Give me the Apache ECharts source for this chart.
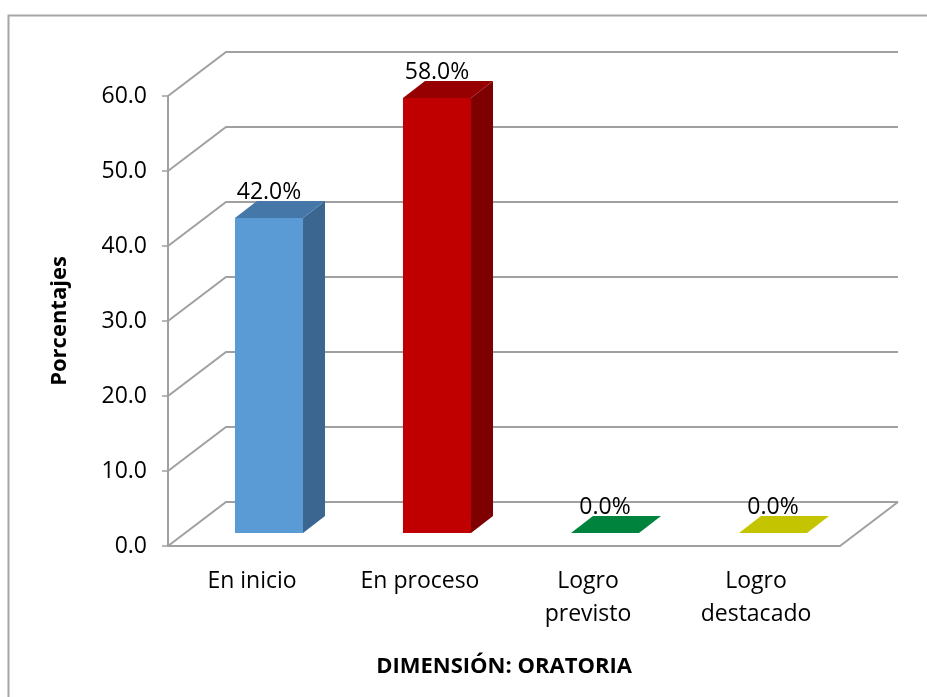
<!DOCTYPE html>
<html>
<head>
<meta charset="utf-8">
<title>Dimensión: Oratoria</title>
<script src="https://cdn.jsdelivr.net/npm/echarts@6/dist/echarts.min.js"></script>
<style>
  html, body { margin: 0; padding: 0; background: #fff; }
  #chart { width: 927px; height: 697px; }
</style>
</head>
<body>
<div id="chart"></div>
<script>
// data
const categories = ["En inicio", "En proceso", "Logro\nprevisto", "Logro\ndestacado"];
const values = [42.0, 58.0, 0.0, 0.0];
const yTicks = [0, 10, 20, 30, 40, 50, 60];

// bar faces
const frontColors = ["#5b9bd5", "#c00000", "#00843d", "#c4c400"];
const sideColors = ["#3a6690", "#7f0000", "#005a2a", "#8a8a00"];
const topColors = ["#4577a8", "#960000", "#00843d", "#c4c400"];

const FONT = "Open Sans";
const WALL_DX = 58, WALL_DY = -44;   // depth of the floor / side wall
const BAR_OX = 17, BAR_OY = -13;     // bar sits a bit back from the front edge
const BAR_DX = 22, BAR_DY = -17;     // depth of a bar

function renderWall(params, api) {
  const cs = params.coordSys;
  const v = api.value(1);
  const y = api.coord([0, v])[1];
  const left = cs.x, right = cs.x + cs.width;
  const lineStyle = { stroke: "#a0a0a0", lineWidth: 2, fill: null };
  const children = [{
    type: "polyline",
    shape: { points: [[left, y], [left + WALL_DX, y + WALL_DY], [right + WALL_DX, y + WALL_DY]] },
    style: lineStyle
  }];
  if (v === 0) {
    children.push({
      type: "line",
      shape: { x1: right, y1: y, x2: right + WALL_DX, y2: y + WALL_DY },
      style: lineStyle
    });
  }
  return { type: "group", children: children };
}

function renderBar(params, api) {
  const i = api.value(0);
  const v = api.value(1);
  const base = api.coord([i, 0]);
  const top = api.coord([i, v]);
  const w = api.size([1, 0])[0] * 0.405;
  const cx = base[0] + BAR_OX;
  const x0 = cx - w / 2, x1 = cx + w / 2;
  const yb = base[1] + BAR_OY, yt = top[1] + BAR_OY;
  const children = [];
  if (yb - yt > 0.5) {
    children.push({
      type: "rect",
      shape: { x: x0, y: yt, width: x1 - x0, height: yb - yt },
      style: { fill: frontColors[i] }
    });
    children.push({
      type: "polygon",
      shape: { points: [[x1, yb], [x1 + BAR_DX, yb + BAR_DY], [x1 + BAR_DX, yt + BAR_DY], [x1, yt]] },
      style: { fill: sideColors[i] }
    });
  }
  children.push({
    type: "polygon",
    shape: { points: [[x0, yt], [x1, yt], [x1 + BAR_DX, yt + BAR_DY], [x0 + BAR_DX, yt + BAR_DY]] },
    style: { fill: topColors[i] }
  });
  children.push({
    type: "text",
    style: {
      text: v.toFixed(1) + "%",
      x: cx,
      y: yt + BAR_DY + 3,
      align: "center",
      verticalAlign: "bottom",
      fontFamily: FONT,
      fontSize: 23,
      fill: "#000"
    }
  });
  return { type: "group", children: children };
}

const chart = echarts.init(document.getElementById("chart"));
chart.setOption({
  animation: false,
  graphic: [{
    type: "rect",
    left: 6, top: 13, z: -10,
    shape: { width: 1000, height: 1000 },
    style: { fill: null, stroke: "#a6a6a6", lineWidth: 2 }
  }],
  grid: { left: 168, right: 87, top: 96, bottom: 151 },
  xAxis: {
    type: "category",
    data: categories,
    name: "DIMENSIÓN: ORATORIA",
    nameLocation: "middle",
    nameGap: 110,
    nameTextStyle: { fontFamily: FONT, fontSize: 22, fontWeight: "bold", color: "#000" },
    axisLine: { lineStyle: { color: "#a0a0a0", width: 2 } },
    axisTick: { length: 8, lineStyle: { color: "#a0a0a0", width: 1.5 } },
    axisLabel: { margin: 19, fontFamily: FONT, fontSize: 23, color: "#000", lineHeight: 33 },
    splitLine: { show: false }
  },
  yAxis: {
    type: "value",
    min: 0, max: 60, interval: 10,
    name: "Porcentajes",
    nameLocation: "middle",
    nameGap: 97,
    nameRotate: 90,
    nameTextStyle: { fontFamily: FONT, fontSize: 22, fontWeight: "bold", color: "#000" },
    axisLine: { show: true, lineStyle: { color: "#a0a0a0", width: 2 } },
    axisTick: { show: true, length: 6, lineStyle: { color: "#a0a0a0", width: 1.5 } },
    axisLabel: {
      margin: 21, fontFamily: FONT, fontSize: 23, color: "#000",
      formatter: function (v) { return v.toFixed(1); }
    },
    splitLine: { show: false }
  },
  series: [
    {
      type: "custom",
      renderItem: renderWall,
      data: yTicks.map(function (t) { return [0, t]; }),
      z: 1,
      silent: true
    },
    {
      type: "custom",
      renderItem: renderBar,
      data: values.map(function (v, i) { return [i, v]; }),
      z: 3
    }
  ]
});
</script>
</body>
</html>
